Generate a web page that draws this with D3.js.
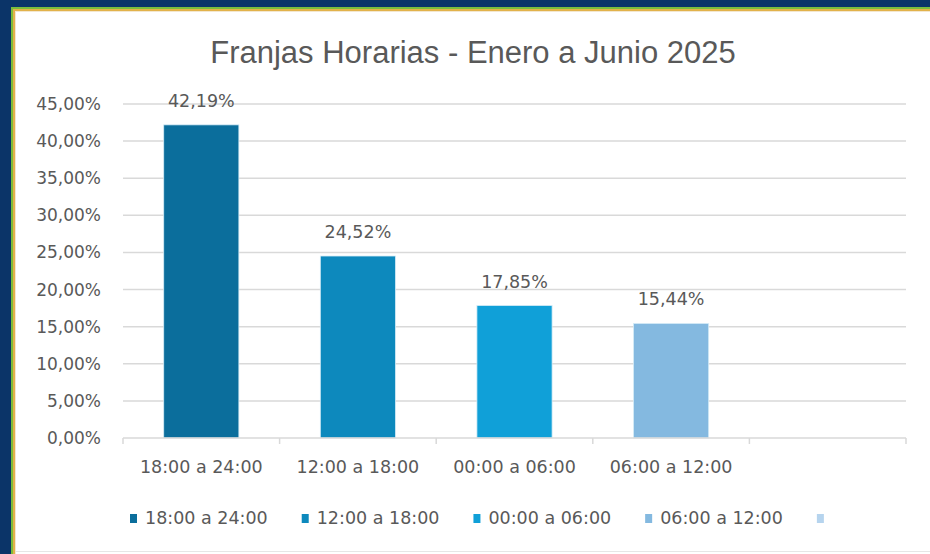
<!DOCTYPE html>
<html>
<head>
<meta charset="utf-8">
<script src="https://cdn.jsdelivr.net/npm/d3@7"></script>
<style>
  body { margin: 0; background: #fff; }
  svg text { font-family: "DejaVu Sans", sans-serif; fill: #595959; }
</style>
</head>
<body>
<div id="chart"></div>
<script>
// Chart data
var categories = ["18:00 a 24:00", "12:00 a 18:00", "00:00 a 06:00", "06:00 a 12:00", ""];
var values = [42.19, 24.52, 17.85, 15.44, null];
var valueLabels = ["42,19%", "24,52%", "17,85%", "15,44%", ""];
var yTicks = [0, 5, 10, 15, 20, 25, 30, 35, 40, 45];
var colors = ["#0b6e9c", "#0d89bd", "#10a0d8", "#84b9e0", "#b6d4ee"];
var title = "Franjas Horarias - Enero a Junio 2025";

var W = 930, H = 554;
var svg = d3.select("#chart").append("svg")
    .attr("width", W)
    .attr("height", H);

// frame
svg.append("rect").attr("width", W).attr("height", H).attr("fill", "#0b3468");
svg.append("rect").attr("x", 11).attr("y", 7).attr("width", W - 11).attr("height", H - 7).attr("fill", "#7cbd3c");
svg.append("rect").attr("x", 13).attr("y", 9).attr("width", W - 13).attr("height", H - 9).attr("fill", "#e2b24a");
svg.append("rect").attr("x", 15).attr("y", 11).attr("width", W - 15).attr("height", H - 11).attr("fill", "#f3e7cf");
svg.append("rect").attr("x", 16).attr("y", 12).attr("width", W - 16).attr("height", H - 12).attr("fill", "#fff");
svg.append("line").attr("x1", 16).attr("x2", W).attr("y1", 551.5).attr("y2", 551.5)
    .attr("stroke", "#e6e6e6").attr("stroke-width", 1);

var plot = {left: 123, right: 906, top: 104, bottom: 438};

var x = d3.scaleBand()
    .domain(d3.range(categories.length))
    .range([plot.left, plot.right])
    .paddingInner(0.52)
    .paddingOuter(0.26);
var y = d3.scaleLinear()
    .domain([0, 45])
    .range([plot.bottom, plot.top]);

// title
svg.append("text")
    .attr("x", 473)
    .attr("y", 63)
    .attr("text-anchor", "middle")
    .style("font-family", "'Liberation Sans', Arial, sans-serif")
    .style("font-size", "31px")
    .text(title);

// gridlines
svg.append("g").selectAll("line")
    .data(yTicks.filter(function(d){ return d > 0; }))
    .enter().append("line")
      .attr("x1", plot.left)
      .attr("x2", plot.right)
      .attr("y1", function(d){ return y(d); })
      .attr("y2", function(d){ return y(d); })
      .attr("stroke", "#d9d9d9")
      .attr("stroke-width", 1.5);

// y labels
svg.append("g").selectAll("text")
    .data(yTicks)
    .enter().append("text")
      .attr("x", 101)
      .attr("y", function(d){ return y(d) + 6; })
      .attr("text-anchor", "end")
      .style("font-size", "17px")
      .text(function(d){ return d3.format(".2f")(d).replace(".", ",") + "%"; });

// bars
svg.append("g").selectAll("rect")
    .data(values)
    .enter().filter(function(d){ return d != null; }).append("rect")
      .attr("x", function(d, i){ return x(i); })
      .attr("y", function(d){ return y(d); })
      .attr("width", x.bandwidth())
      .attr("height", function(d){ return y(0) - y(d); })
      .attr("fill", function(d, i){ return colors[i]; })
      .attr("stroke", "#d6ecf7")
      .attr("stroke-width", 0.8);

// value labels
svg.append("g").selectAll("text")
    .data(values)
    .enter().filter(function(d){ return d != null; }).append("text")
      .attr("x", function(d, i){ return x(i) + x.bandwidth() / 2; })
      .attr("y", function(d){ return y(d) - 18; })
      .attr("text-anchor", "middle")
      .style("font-size", "17.5px")
      .text(function(d, i){ return valueLabels[i]; });

// x axis
var step = x.step();
var axisG = svg.append("g");
axisG.append("line")
    .attr("x1", plot.left).attr("x2", plot.right)
    .attr("y1", plot.bottom).attr("y2", plot.bottom)
    .attr("stroke", "#d9d9d9").attr("stroke-width", 1.5);
axisG.selectAll(".tick")
    .data(d3.range(categories.length + 1))
    .enter().append("line")
      .attr("x1", function(d){ return plot.left + d * step; })
      .attr("x2", function(d){ return plot.left + d * step; })
      .attr("y1", plot.bottom)
      .attr("y2", plot.bottom + 6)
      .attr("stroke", "#d9d9d9").attr("stroke-width", 1.5);
axisG.selectAll("text")
    .data(categories)
    .enter().append("text")
      .attr("x", function(d, i){ return x(i) + x.bandwidth() / 2; })
      .attr("y", 473)
      .attr("text-anchor", "middle")
      .style("font-size", "17.5px")
      .text(function(d){ return d; });

// legend
var legend = svg.append("g");
var lx = 130;
categories.forEach(function(c, i){
  legend.append("rect")
      .attr("x", lx)
      .attr("y", 514)
      .attr("width", 7)
      .attr("height", 9)
      .attr("fill", colors[i]);
  var t = legend.append("text")
      .attr("x", lx + 15)
      .attr("y", 524)
      .style("font-size", "17.5px")
      .text(c);
  lx += 15 + t.node().getComputedTextLength() + 34;
});
</script>
</body>
</html>
